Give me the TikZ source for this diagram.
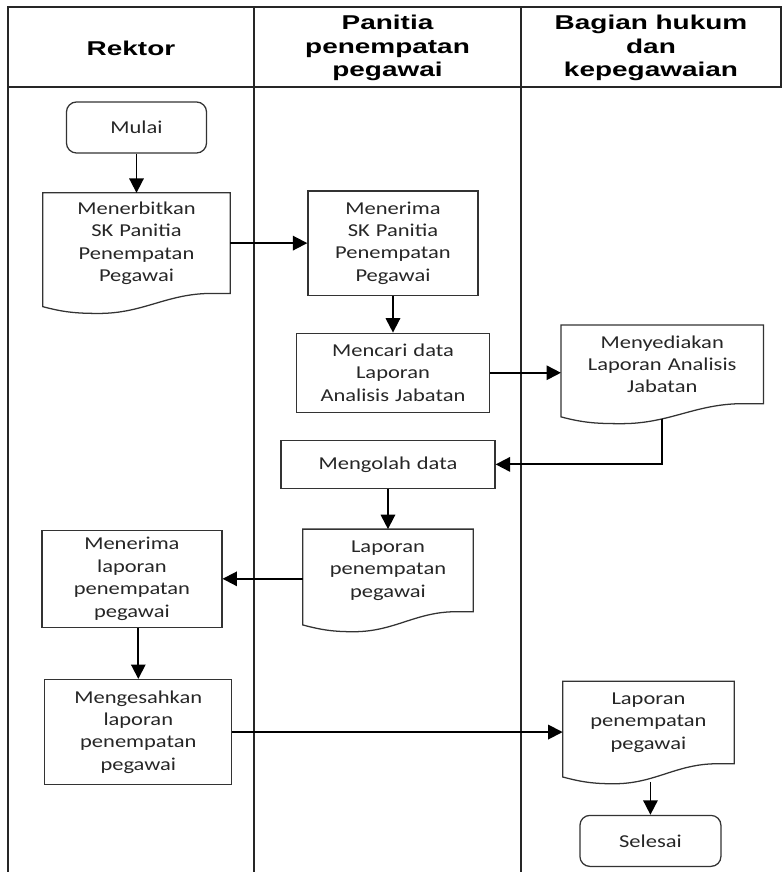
\documentclass[tikz,border=0pt]{standalone}
\usepackage{fontspec}
\usetikzlibrary{shapes.geometric, arrows.meta, calc}
\newfontfamily\boxfont{Carlito}[FakeStretch=1.24]
\newfontfamily\headfont{Liberation Sans}[FakeStretch=1.4]
\tikzstyle{lane} = [line width=1.4pt, draw=black!85]
\tikzstyle{header} = [font=\headfont\bfseries\fontsize{14.2pt}{16.7pt}\selectfont, text=black, align=center]
\tikzstyle{startstop} = [rectangle, rounded corners=0.25cm, minimum width=3.5cm, minimum height=1.275cm, align=center, draw=black!80, line width=0.9pt]
\tikzstyle{process} = [rectangle, inner sep=0pt, align=center, draw=black!80, line width=0.9pt]
\tikzstyle{docbox} = [rectangle, inner sep=0pt, align=center, append after command={\pgfextra{\let\docnode\tikzlastnode
  \draw[line width=0.9pt, draw=black!80] (\docnode.north west) -- (\docnode.north east) -- (\docnode.south east)
    -- ($(\docnode.south west)!0.9!(\docnode.south east)$)
    to[out=180, in=0] ($(\docnode.south west)!0.3!(\docnode.south east)+(0,-0.5cm)$)
    to[out=180, in=-15] ($(\docnode.south west)+(0,-0.33cm)$) -- cycle;}}]
\tikzstyle{arrow} = [line width=1.3pt, -{Triangle[length=0.36cm, width=0.36cm]}]

\begin{document}
\begin{tikzpicture}[x=0.025cm, y=-0.025cm, every node/.style={font=\boxfont\fontsize{12.9pt}{15.9pt}\selectfont, text=black!85}]
	\useasboundingbox (0,0) rectangle (783,872);
	% lanes
	\draw[lane] (8,7) rectangle (781,87);
	\draw[lane] (8,7) -- (8,872);
	\draw[lane] (254,7) -- (254,872);
	\draw[lane] (521,7) -- (521,872);
	\node[header] (hrektor) at (131,48) {Rektor};
	\node[header] (hpanitia) at (387.5,48) {Panitia\\penempatan\\pegawai};
	\node[header] (hbagian) at (651,48) {Bagian hukum\\dan\\kepegawaian};

	\node [startstop] at (136.5,127.5) (mulai) {Mulai};
	\node [docbox, below of=mulai, node distance=2.89cm, text width=4.675cm, minimum height=2.5cm] (terbit) {Menerbitkan\\SK Panitia\\Penempatan\\Pegawai};
	\node [process, right of=terbit, node distance=6.41cm, text width=4.25cm, minimum height=2.6cm] (terima) {Menerima\\SK Panitia\\Penempatan\\Pegawai};
	\node [process, below of=terima, node distance=3.24cm, text width=4.825cm, minimum height=1.975cm] (cari) {Mencari data\\Laporan\\Analisis Jabatan};
	\node [docbox, right of=cari, node distance=6.73cm, yshift=0.21cm, text width=5.05cm, minimum height=1.95cm] (sedia) {Menyediakan\\Laporan Analisis\\Jabatan};
	\node [process, below of=cari, node distance=2.29cm, xshift=-0.125cm, text width=5.35cm, minimum height=1.2cm] (olah) {Mengolah data};
	\node [docbox, below of=olah, node distance=2.65cm, text width=4.25cm, minimum height=2.05cm] (lapmid) {Laporan\\penempatan\\pegawai};
	\node [process, left of=lapmid, node distance=6.4cm, yshift=-0.21cm, text width=4.5cm, minimum height=2.425cm] (terlap) {Menerima\\laporan\\penempatan\\pegawai};
	\node [process, below of=terlap, node distance=3.83cm, xshift=0.16cm, text width=4.675cm, minimum height=2.625cm] (sah) {Mengesahkan\\laporan\\penempatan\\pegawai};
	\node [docbox, right of=sah, node distance=12.75cm, yshift=0.24cm, text width=4.275cm, minimum height=2.05cm] (lapr) {Laporan\\penempatan\\pegawai};
	\node [startstop, below of=lapr, node distance=2.96cm, xshift=0.05cm, minimum width=3.525cm] (selesai) {Selesai};

	\draw [arrow] (mulai) -- (terbit);
	\draw [arrow] (terbit) -- (terima);
	\draw [arrow] (terima) -- (cari);
	\draw [arrow] (cari.east) -- (cari.east -| sedia.west);
	\draw [arrow] ([yshift=-0.375cm]sedia.south) |- (olah.east);
	\draw [arrow] (olah) -- (lapmid);
	\draw [arrow] (lapmid.west |- terlap.east) -- (terlap.east);
	\draw [arrow] (sah.north |- terlap.south) -- (sah.north);
	\draw [arrow] (sah.east) -- (sah.east -| lapr.west);
	\draw [arrow] ([yshift=-0.45cm]selesai.north |- lapr.south) -- (selesai.north);
\end{tikzpicture}
\end{document}
